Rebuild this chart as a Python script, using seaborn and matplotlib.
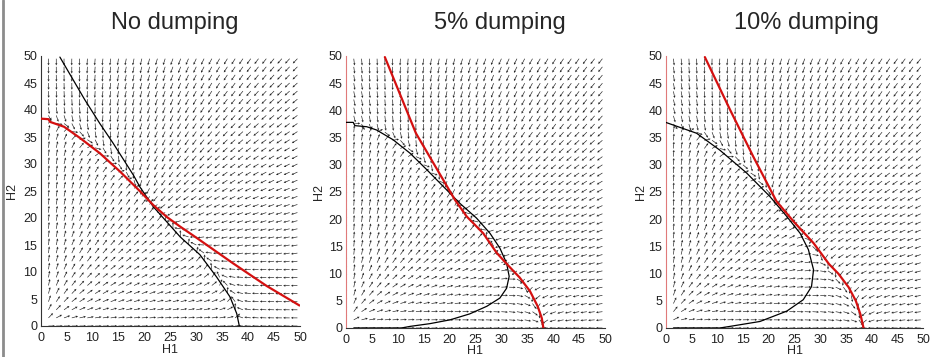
import numpy as np
import matplotlib
matplotlib.use("Agg")
import matplotlib.pyplot as plt
from matplotlib.lines import Line2D
import seaborn as sns

# nullcline points (H1, H2)
# panel 1: no dumping
p1_black_x = [3.7, 8.5, 11.4, 14.0, 17.9, 19.1, 21.7, 26.9, 30.7, 33.9, 36.5, 37.8, 38.3]
p1_black_y = [49.8, 41.9, 37.5, 33.8, 27.9, 25.8, 22.1, 16.5, 13.2, 9.1, 5.4, 2.3, 0.0]
p1_red_x = [0.0, 1.5, 1.8, 4.5, 7.6, 11.4, 15.3, 19.1, 21.7, 24.3, 26.9, 30.1, 37.1, 43.6, 49.9]
p1_red_y = [38.4, 38.3, 37.8, 36.9, 34.8, 32.0, 28.6, 25.0, 22.4, 20.2, 18.4, 16.3, 11.6, 7.4, 3.8]

# panel 2: 5% dumping
p2_red_x = [7.5, 13.5, 21.0, 23.3, 26.5, 29.1, 31.5, 33.5, 35.5, 37.0, 37.8, 38.1]
p2_red_y = [49.8, 35.8, 23.6, 20.5, 17.4, 13.8, 11.3, 9.3, 6.8, 4.0, 1.8, 0.0]
p2_black_x = [0.0, 1.4, 1.7, 4.0, 5.9, 9.1, 12.4, 15.6, 18.8, 22.0, 25.2, 27.8, 29.7, 31.0,
              31.5, 31.0, 29.7, 27.2, 23.9, 20.1, 16.2, 12.4, 10.7, 1.5]
p2_black_y = [37.8, 37.8, 37.2, 37.0, 36.4, 34.6, 32.1, 29.1, 26.0, 22.9, 20.2, 17.4, 14.7, 11.9,
              9.5, 7.3, 5.5, 4.0, 2.6, 1.5, 0.8, 0.3, 0.0, 0.0]

# panel 3: 10% dumping
p3_red_x = [7.6, 12.5, 17.0, 21.5, 24.8, 28.7, 31.7, 33.5, 35.5, 36.9, 37.8, 38.4]
p3_red_y = [49.8, 40.1, 31.5, 23.3, 19.6, 15.6, 11.75, 10.0, 7.5, 5.0, 2.5, 0.0]
p3_black_x = [0.0, 1.5, 6.0, 10.5, 15.7, 20.2, 23.5, 26.1, 27.7, 28.7, 28.3, 26.7, 23.5, 18.3,
              12.5, 10.5, 1.5]
p3_black_y = [37.8, 37.3, 35.8, 32.7, 28.5, 24.2, 20.5, 17.4, 14.4, 10.7, 7.6, 5.2, 3.1, 1.2,
              0.3, 0.0, 0.0]

titles = ["No dumping", "5% dumping", "10% dumping"]
grid_vals = np.arange(0, 50, 1.5)


def field_no_dump(h1, h2):
    # H1 nullcline: black (H1 as function of H2); H2 nullcline: red (H2 of H1)
    f = np.interp(h2, p1_black_y[::-1], p1_black_x[::-1])
    g = np.interp(h1, p1_red_x, p1_red_y)
    return h1 * (f - h1), h2 * (g - h2)


def field_dump(h1, h2, red_x, red_y, black_x, black_y):
    # H1 nullcline: red; H2 nullcline: black C-shape (H1 as function of H2)
    f = np.interp(h2, red_y[::-1], red_x[::-1])
    bx = np.array(black_x[:-1])[::-1]
    by = np.array(black_y[:-1])[::-1]
    c = np.interp(h2, by, bx)
    return h1 * (f - h1), h2 * (c - h1)


def draw_quiver(ax, u, v, X, Y):
    n = np.hypot(u, v)
    n[n == 0] = np.nan
    ax.quiver(X, Y, u / n, v / n, angles="xy", scale_units="xy", scale=1 / 1.25,
              color="#222222", width=0.0025, headwidth=3.5, headlength=3.5,
              headaxislength=3.2, pivot="tail", zorder=1)


sns.set_style("white")
plt.rcParams["font.family"] = ["Liberation Sans", "DejaVu Sans"]

fig = plt.figure(figsize=(9.33, 3.57), dpi=100)
W, H = 933, 357
boxes = [(40.7, 300, 56, 326), (346, 605, 56, 328), (665.7, 923.3, 56, 328)]
title_x = [175, 500, 806]
ylab_x = [-0.088, -0.081, -0.074]
xlab_y = [-0.068, -0.062, -0.062]

X, Y = np.meshgrid(grid_vals, grid_vals)

for i, (l, r, t, b) in enumerate(boxes):
    ax = fig.add_axes([l / W, (H - b) / H, (r - l) / W, (b - t) / H])
    if i == 0:
        u, v = field_no_dump(X, Y)
        bx, by, rx, ry = p1_black_x, p1_black_y, p1_red_x, p1_red_y
    elif i == 1:
        u, v = field_dump(X, Y, p2_red_x, p2_red_y, p2_black_x, p2_black_y)
        bx, by, rx, ry = p2_black_x, p2_black_y, p2_red_x, p2_red_y
    else:
        u, v = field_dump(X, Y, p3_red_x, p3_red_y, p3_black_x, p3_black_y)
        bx, by, rx, ry = p3_black_x, p3_black_y, p3_red_x, p3_red_y
    draw_quiver(ax, u, v, X, Y)

    sns.lineplot(x=bx, y=by, sort=False, estimator=None, color="black", lw=0.9, ax=ax, zorder=3)
    sns.lineplot(x=rx, y=ry, sort=False, estimator=None, color="#d41010", lw=1.6, ax=ax, zorder=4)

    ax.set_xlim(0, 50)
    ax.set_ylim(0, 50)
    ax.set_xticks(range(0, 51, 5))
    ax.set_yticks(range(0, 51, 5))
    ax.tick_params(direction="in", length=3, width=0.6, labelsize=9, colors="#222222")
    ax.tick_params(axis="x", pad=4)
    ax.tick_params(axis="y", pad=2.5)
    for s in ["top", "right"]:
        ax.spines[s].set_visible(False)
    for s in ["left", "bottom"]:
        ax.spines[s].set_linewidth(0.8)
        ax.spines[s].set_color("#333333")
    if i > 0:
        ax.spines["left"].set_color("#e07a7a")
    ax.set_xlabel("H1", fontsize=9)
    ax.set_ylabel("H2", fontsize=9)
    ax.xaxis.set_label_coords(0.5, xlab_y[i])
    ax.yaxis.set_label_coords(ylab_x[i], 0.5)
    fig.text(title_x[i] / W, (H - 29.5) / H, titles[i], ha="center", va="baseline", fontsize=17)

fig.add_artist(Line2D([2.5 / W, 2.5 / W], [0, 1], transform=fig.transFigure, color="0.55", lw=2))

fig.savefig("out.png", dpi=100)
